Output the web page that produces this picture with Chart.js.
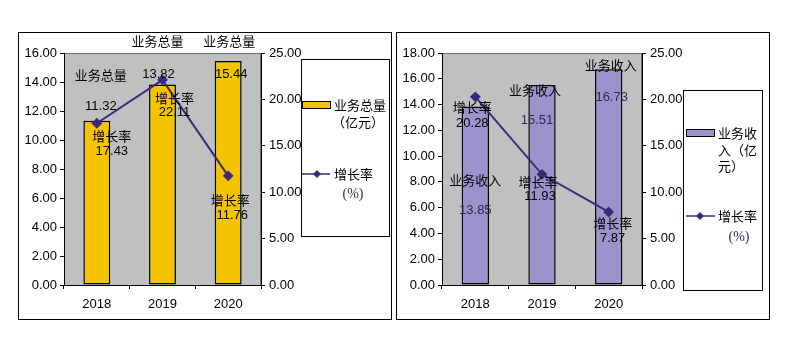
<!DOCTYPE html>
<html>
<head>
<meta charset="utf-8">
<script src="https://cdn.jsdelivr.net/npm/chart.js@4.4.1/dist/chart.umd.min.js"></script>
<style>
  body { margin: 0; background: #fff; width: 792px; height: 345px; position: relative; overflow: hidden; }
  .panel { position: absolute; top: 32px; width: 372px; height: 286px; border: 1px solid #000; }
  .panel canvas { display: block; }
</style>
</head>
<body>
<div class="panel" style="left:18px"><canvas id="c1" width="372" height="286"></canvas></div>
<div class="panel" style="left:396px"><canvas id="c2" width="372" height="286"></canvas></div>
<script>
// data
const years = ['2018', '2019', '2020']
const totalVolume = [11.32, 13.82, 15.44]      // 业务总量（亿元）
const volumeGrowth = [17.43, 22.11, 11.76]     // 增长率（%）
const revenue = [13.85, 15.51, 16.73]          // 业务收入（亿元）
const revenueGrowth = [20.28, 11.93, 7.87]     // 增长率（%）

const FONT = '"Liberation Sans", Arial, "Noto Sans CJK SC", sans-serif'
const CJK = '"Noto Sans CJK SC", sans-serif'
const LINE = '#3c2a78'

Chart.defaults.font.family = FONT
Chart.defaults.font.size = 13
Chart.defaults.color = '#000'

// gray plot area
const plotBg = {
  id: 'plotBg',
  beforeDraw(chart) {
    const { ctx, chartArea: a } = chart
    ctx.save()
    ctx.fillStyle = '#c0c0c0'
    ctx.fillRect(a.left, a.top, a.width, a.height)
    ctx.strokeStyle = '#6e6e6e'
    ctx.lineWidth = 1
    ctx.strokeRect(a.left + 0.5, a.top + 0.5, a.width - 1, a.height)
    ctx.restore()
  }
}

// name + value labels placed near each bar top / line point
const pointLabels = {
  id: 'pointLabels',
  afterDatasetsDraw(chart, args, opts) {
    const ctx = chart.ctx
    ctx.save()
    ctx.font = '13px ' + FONT
    ctx.textAlign = 'center'
    ctx.textBaseline = 'middle'
    opts.items.forEach(it => {
      const ds = chart.data.datasets[it.ds]
      const el = chart.getDatasetMeta(it.ds).data[it.i]
      ctx.fillStyle = '#000'
      ctx.fillText(ds.tag, el.x + it.name[0], el.y + it.name[1])
      ctx.fillStyle = it.valueColor || '#000'
      ctx.fillText(ds.data[it.i].toFixed(2), el.x + it.value[0], el.y + it.value[1])
    })
    ctx.restore()
  }
}

// boxed legend at the right of each panel
const boxLegend = {
  id: 'boxLegend',
  afterDraw(chart, args, o) {
    const ctx = chart.ctx
    ctx.save()
    ctx.strokeStyle = '#000'
    ctx.lineWidth = 1
    ctx.strokeRect(o.box[0] + 0.5, o.box[1] + 0.5, o.box[2], o.box[3])
    const s = o.swatch
    ctx.fillStyle = o.barColor
    ctx.fillRect(s[0], s[1], s[2], s[3])
    ctx.strokeRect(s[0] + 0.5, s[1] + 0.5, s[2] - 1, s[3] - 1)
    ctx.font = '13px ' + CJK
    ctx.fillStyle = '#000'
    ctx.textBaseline = 'middle'
    ctx.textAlign = 'left'
    o.barText.forEach(t => ctx.fillText(t[0], t[1], t[2]))
    const l = o.line
    ctx.strokeStyle = LINE
    ctx.lineWidth = 1.5
    ctx.beginPath()
    ctx.moveTo(l[0], l[2])
    ctx.lineTo(l[1], l[2])
    ctx.stroke()
    ctx.fillStyle = LINE
    ctx.beginPath()
    ctx.moveTo(l[3], l[2] - 4)
    ctx.lineTo(l[3] + 4, l[2])
    ctx.lineTo(l[3], l[2] + 4)
    ctx.lineTo(l[3] - 4, l[2])
    ctx.closePath()
    ctx.fill()
    ctx.fillStyle = '#000'
    ctx.fillText(o.lineText[0], o.lineText[1], o.lineText[2])
    ctx.font = '14px "Liberation Serif", serif'
    ctx.fillStyle = '#2b2b66'
    ctx.textAlign = 'center'
    ctx.fillText('(%)', o.pct[0], o.pct[1])
    ctx.restore()
  }
}

const makeChart = (ctx, cfg) => {
  const axisGrid = { drawOnChartArea: false, drawTicks: true, tickLength: 4, color: '#000' }
  return new Chart(ctx, {
    type: 'bar',
    data: {
      labels: years,
      datasets: [
        {
          type: 'bar',
          tag: cfg.barTag,
          data: cfg.bars,
          yAxisID: 'y',
          backgroundColor: cfg.barColor,
          borderColor: '#000',
          borderWidth: 1.5,
          borderSkipped: false,
          barPercentage: 0.41,
          categoryPercentage: 1,
          order: 1
        },
        {
          type: 'line',
          tag: '增长率',
          data: cfg.growth,
          yAxisID: 'y1',
          borderColor: LINE,
          backgroundColor: LINE,
          borderWidth: 2,
          pointStyle: 'rectRot',
          pointRadius: 4,
          tension: 0,
          order: 0
        }
      ]
    },
    options: {
      responsive: false,
      animation: false,
      layout: { padding: { left: 0, top: 20, right: cfg.rightPad, bottom: 0 } },
      plugins: {
        legend: { display: false },
        tooltip: { enabled: false },
        pointLabels: { items: cfg.labels },
        boxLegend: cfg.legend
      },
      scales: {
        x: {
          grid: axisGrid,
          border: { display: true, color: '#000', width: 1 },
          ticks: { padding: 8 },
          afterFit: s => { s.height = 34 }
        },
        y: {
          position: 'left',
          min: 0,
          max: cfg.yMax,
          grid: axisGrid,
          border: { display: true, color: '#000', width: 1 },
          ticks: { stepSize: 2, padding: 3, callback: v => v.toFixed(2) },
          afterFit: s => { s.width = 45 }
        },
        y1: {
          position: 'right',
          min: 0,
          max: 25,
          grid: axisGrid,
          border: { display: true, color: '#000', width: 1 },
          ticks: { stepSize: 5, padding: 4, callback: v => v.toFixed(2) },
          afterFit: s => { s.width = 40 }
        }
      }
    },
    plugins: [plotBg, pointLabels, boxLegend]
  })
}

// left panel
makeChart(document.getElementById('c1'), {
  bars: totalVolume,
  growth: volumeGrowth,
  barTag: '业务总量',
  barColor: '#f5c400',
  yMax: 16,
  rightPad: 90,
  labels: [
    { ds: 0, i: 0, name: [4, -44], value: [4, -14] },
    { ds: 0, i: 1, name: [-5, -42], value: [-4, -10] },
    { ds: 0, i: 2, name: [1, -19], value: [3, 13] },
    { ds: 1, i: 0, name: [15, 14], value: [15, 28] },
    { ds: 1, i: 1, name: [12, 20], value: [12, 33] },
    { ds: 1, i: 2, name: [2, 26], value: [4, 40] }
  ],
  legend: {
    box: [282, 26, 88, 177],
    swatch: [283, 68, 29, 8],
    barColor: '#f5c400',
    barText: [['业务总量', 315, 72], ['（亿元）', 313, 89]],
    line: [283, 311, 141, 298],
    lineText: ['增长率', 315, 141],
    pct: [334, 161]
  }
})

// right panel
makeChart(document.getElementById('c2'), {
  bars: revenue,
  growth: revenueGrowth,
  barTag: '业务收入',
  barColor: '#9b94cc',
  yMax: 18,
  rightPad: 87,
  labels: [
    { ds: 0, i: 0, name: [0, 75], value: [0, 104], valueColor: '#2e2852' },
    { ds: 0, i: 1, name: [-7, 6], value: [-5, 35], valueColor: '#2e2852' },
    { ds: 0, i: 2, name: [2, -3], value: [3, 28], valueColor: '#2e2852' },
    { ds: 1, i: 0, name: [-3, 12], value: [-3, 27] },
    { ds: 1, i: 1, name: [-4, 9], value: [-2, 22] },
    { ds: 1, i: 2, name: [4, 12], value: [4, 26] }
  ],
  legend: {
    box: [286, 57, 79, 200],
    swatch: [289, 96, 29, 8],
    barColor: '#9b94cc',
    barText: [['业务收', 321, 100], ['入（亿', 321, 117], ['元）', 321, 133]],
    line: [289, 318, 183, 303],
    lineText: ['增长率', 321, 183],
    pct: [342, 204]
  }
})
</script>
</body>
</html>
